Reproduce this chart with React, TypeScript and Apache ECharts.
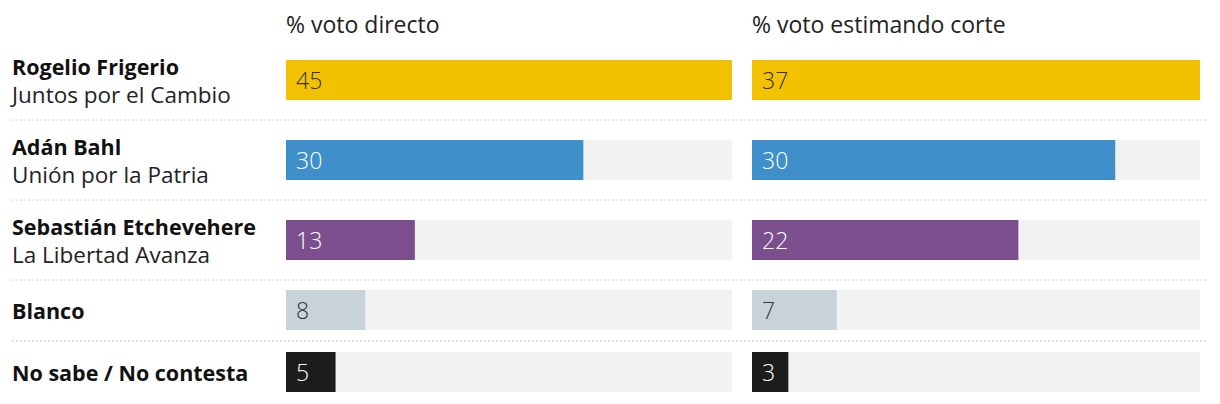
import React, { useEffect, useRef } from "react";
import * as echarts from "echarts";

const names = ["Rogelio Frigerio", "Adán Bahl", "Sebastián Etchevehere", "Blanco", "No sabe / No contesta"];
const parties = ["Juntos por el Cambio", "Unión por la Patria", "La Libertad Avanza", "", ""];
const votoDirecto = [45, 30, 13, 8, 5];
const votoCorte = [37, 30, 22, 7, 3];
const panelTitles = ["% voto directo", "% voto estimando corte"];
const barColors = ["#f2c200", "#3f8fca", "#7b4f8e", "#c8d3d9", "#1c1c1c"];
const labelColors = ["#333333", "#ffffff", "#ffffff", "#333333", "#ffffff"];

const rowTops = [60, 140, 220, 290, 352];
const separators = [120, 200, 280, 341];
const panels = [
  { left: 286, width: 446, data: votoDirecto },
  { left: 752, width: 448, data: votoCorte },
];
const FONT = "'Open Sans', sans-serif";

export default function App() {
  const ref = useRef<HTMLDivElement>(null);
  useEffect(() => {
    if (!ref.current) return;
    const chart = echarts.init(ref.current, undefined, { renderer: "svg" });
    const grid: any[] = [];
    const xAxis: any[] = [];
    const yAxis: any[] = [];
    const series: any[] = [];
    names.forEach((name, i) => {
      panels.forEach((p, pi) => {
        const idx = grid.length;
        grid.push({ left: p.left, width: p.width, top: rowTops[i], height: 40 });
        xAxis.push({
          gridIndex: idx,
          type: "value",
          min: 0,
          max: Math.max(...p.data),
          show: false,
        });
        yAxis.push({
          gridIndex: idx,
          type: "category",
          data: [name],
          axisLine: { show: false },
          axisTick: { show: false },
          axisLabel:
            pi === 0
              ? {
                  show: true,
                  align: "left",
                  margin: p.left - 12,
                  formatter: () =>
                    parties[i] ? `{b|${name}}\n{s|${parties[i]}}` : `{b|${name}}`,
                  rich: {
                    b: { fontFamily: FONT, fontWeight: 700, fontSize: 21.5, color: "#111", lineHeight: 28 },
                    s: { fontFamily: FONT, fontWeight: 400, fontSize: 22.5, color: "#222", lineHeight: 28 },
                  },
                }
              : { show: false },
        });
        series.push({
          type: "bar",
          xAxisIndex: idx,
          yAxisIndex: idx,
          data: [p.data[i]],
          barWidth: 40,
          itemStyle: { color: barColors[i] },
          showBackground: true,
          backgroundStyle: { color: "#f2f2f2" },
          label: {
            show: true,
            position: "insideLeft",
            distance: 10,
            fontFamily: FONT,
            fontWeight: 300,
            fontSize: 23,
            color: labelColors[i],
          },
          silent: true,
        });
      });
    });
    const graphic: any[] = [];
    panelTitles.forEach((t, pi) => {
      graphic.push({
        type: "text",
        left: panels[pi].left,
        top: 12,
        style: { text: t, font: `400 23px ${FONT}`, fill: "#222" },
      });
    });
    separators.forEach((y) => {
      graphic.push({
        type: "line",
        shape: { x1: 12, y1: y, x2: 1208, y2: y },
        style: { stroke: "#cccccc", lineWidth: 1, lineDash: [2, 2] },
      });
    });
    chart.setOption({
      animation: false,
      backgroundColor: "#ffffff",
      grid,
      xAxis,
      yAxis,
      series,
      graphic,
    });
    return () => chart.dispose();
  }, []);
  return (
    <div
      ref={ref}
      style={{ position: "fixed", left: 0, top: 0, width: 1220, height: 404 }}
    />
  );
}
